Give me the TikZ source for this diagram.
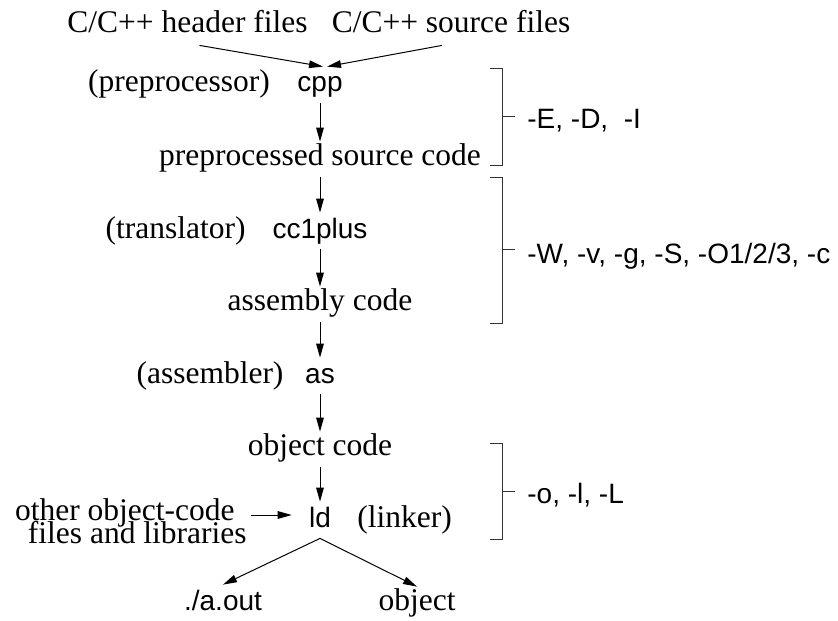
\documentclass[tikz,border=0pt]{standalone}
\usepackage{fontspec}
\setmainfont{Liberation Serif}
\setsansfont{Liberation Sans}
\usepackage{tikz}
\usetikzlibrary{arrows.meta}
\tikzset{
    txt/.style={font=\fontsize{15.75}{18}\selectfont, inner sep=2pt, text height=9.5pt, text depth=4pt, anchor=base},
    cmd/.style={font=\sffamily\fontsize{14}{16}\selectfont, inner sep=2pt, text height=10.5pt, text depth=3.5pt, anchor=base},
    flag/.style={font=\sffamily\fontsize{14}{16}\selectfont, inner sep=2pt, anchor=base west},
    arr/.style={-{Triangle[length=7pt,width=3.8pt]}, line width=0.5pt},
    brack/.style={line width=0.5pt, black!80}}

\begin{document}
\begin{tikzpicture}[x=0.5pt, y=0.5pt]
            \useasboundingbox (0,0) rectangle (838,-620);

            % sources and tools
            \node[txt] (hdr) at (187.5,-33) {C/C++ header files};
            \node[txt] (src) at (451,-33) {C/C++ source files};
            \node[cmd] (cpp) at (320,-92) {cpp};
            \node[txt] (pre) at (179,-92) {(preprocessor)};
            \node[txt] (ppsrc) at (320,-165) {preprocessed source code};
            \node[cmd] (cc1) at (320,-238) {cc1plus};
            \node[txt] (trans) at (175.5,-238) {(translator)};
            \node[txt] (asmcode) at (320,-310) {assembly code};
            \node[cmd] (asm) at (320,-383) {as};
            \node[txt] (asmblr) at (210,-383) {(assembler)};
            \node[txt] (objcode) at (320,-455) {object code};
            \node[cmd] (ld) at (320,-527) {ld};
            \node[txt] (linker) at (404.5,-527) {(linker)};
            \node[font=\fontsize{15.75}{10}\selectfont, align=right, inner sep=2pt, anchor=east] (other) at (251,-521) {other object-code\hspace*{6pt}\\[-4pt]files and libraries};
            \node[cmd] (aout) at (223,-610) {./a.out};
            \node[txt] (objfile) at (417,-610) {object};

            % options
            \node[flag] (optpre) at (523,-129) {-E, -D, \ -I};
            \node[flag] (optcc) at (523,-263) {-W, -v, -g, -S, -O1/2/3, -c};
            \node[flag] (optld) at (523,-503) {-o, -l, -L};

            \draw[arr] ([xshift=6pt]hdr.south) -- ([xshift=1.5pt]cpp.north);
            \draw[arr] ([xshift=-4.5pt]src.south) -- ([xshift=3.5pt]cpp.north);
            \draw[arr] (cpp) -- (ppsrc);
            \draw[arr] (ppsrc) -- (cc1);
            \draw[arr] (cc1) -- (asmcode);
            \draw[arr] (asmcode) -- (asm);
            \draw[arr] (asm) -- (objcode);
            \draw[arr] (objcode) -- (ld);
            \draw[arr, shorten >=6.5pt] ([yshift=3pt]other.east) -- ([yshift=3pt]other.east -| ld.west);
            \draw[arr] (ld.south) -- (aout.north);
            \draw[arr] (ld.south) -- (objfile.north);

            % brackets
            \draw[brack] (490,-69) -- (502,-69) -- (502,-166) -- (490,-166);
            \draw[brack] (502,-117) -- (515,-117);
            \draw[brack] (490,-177) -- (502,-177) -- (502,-323) -- (490,-323);
            \draw[brack] (502,-249) -- (515,-249);
            \draw[brack] (490,-443) -- (502,-443) -- (502,-539) -- (490,-539);
            \draw[brack] (502,-491) -- (515,-491);

        \end{tikzpicture}
\end{document}
